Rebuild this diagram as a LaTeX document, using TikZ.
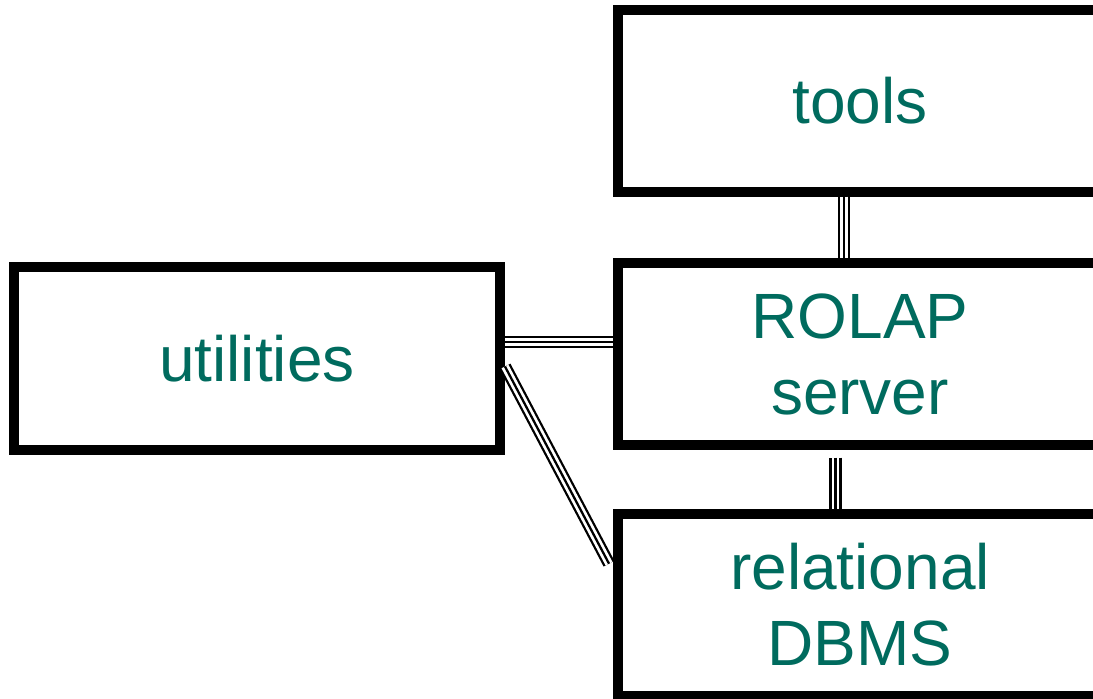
\documentclass[tikz,border=0pt]{standalone}
\usepackage{fontspec}
\setmainfont{Liberation Sans}
\usetikzlibrary{positioning}
\definecolor{labelteal}{RGB}{0,107,94}
\begin{document}
\begin{tikzpicture}[x=0.75pt,y=-0.75pt,
    block/.style={draw, line width=7.5pt, minimum width=363pt, minimum height=136pt,
        align=center, text=labelteal, font=\fontsize{48}{57}\selectfont},
    trio/.style={line width=1.7pt, double=white, double distance=5.8pt,
        postaction={draw, line width=1.7pt}}]
\clip (0,0) rectangle (1093,699);
\useasboundingbox (0,0) rectangle (1093,699);

\node[block] (tools) at (860,101) {tools};
\node[block] (rolap) at (860,354) {ROLAP\\server};
\node[block] (dbms) at (860,605) {relational\\DBMS};
\node[block, minimum width=364.5pt, minimum height=137pt] (utilities) at (257,358.5) {utilities};

\draw[trio] ([xshift=-12.2pt]tools.south) -- ([xshift=-12.2pt]rolap.north);
\draw[trio] ([xshift=-18.4pt,yshift=-6pt]rolap.south) -- ([xshift=-18.4pt]rolap.south |- dbms.north);
\draw[trio] ([yshift=12.4pt]utilities.east) -- ([yshift=12.4pt]utilities.east -| rolap.west);
\draw[trio] ([yshift=-6pt]utilities.east) -- ([xshift=-3pt,yshift=31pt]dbms.west);

\end{tikzpicture}
\end{document}
